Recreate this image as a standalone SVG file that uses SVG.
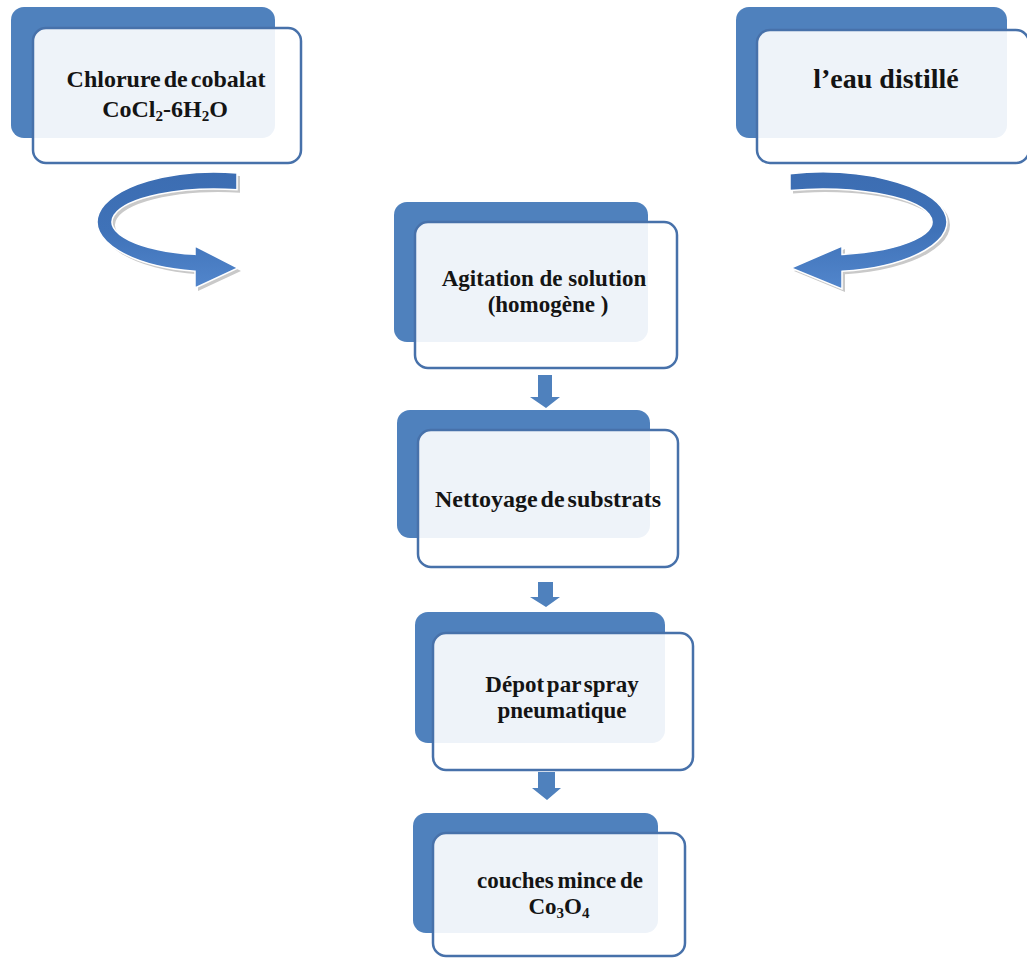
<svg xmlns="http://www.w3.org/2000/svg" width="1027" height="958" viewBox="0 0 1027 958">
<defs>
<style>
.back{fill:#4f81bd;}
.front{fill:#ffffff;fill-opacity:0.9;stroke:#4771aa;stroke-width:2.5;}
.t{font-family:"Liberation Serif","Times New Roman",serif;font-weight:bold;font-size:24px;fill:#141414;text-anchor:middle;}
.m{font-size:23px;}
.sub{font-size:15px;}
.darr{fill:#4f81bd;}
.curve{fill:url(#cg);stroke:#ffffff;stroke-width:1.5;}
.shadow{fill:#c9c9c9;}
</style>
<linearGradient id="cg" x1="0" y1="0" x2="0" y2="1">
<stop offset="0" stop-color="#3c6db2"/>
<stop offset="0.5" stop-color="#3f72b8"/>
<stop offset="1" stop-color="#5286cc"/>
</linearGradient>
</defs>
<rect width="1027" height="958" fill="#ffffff"/>

<g id="connectors">
<g id="curve-left">
<path class="shadow" transform="translate(3,3)" d="M237,172.88 A118,50 0 1,0 195,271.28 L195,288 L238,268 L195,246 L195,254.37 A103,33 0 1,1 237,189.76 Z"/>
<path class="curve" d="M237,172.88 A118,50 0 1,0 195,271.28 L195,288 L238,268 L195,246 L195,254.37 A103,33 0 1,1 237,189.76 Z"/>
</g>
<g id="curve-right">
<path class="shadow" transform="translate(3,3)" d="M790,173.67 A125,50 0 1,1 842,271.36 L842,289 L791,268 L842,246 L842,254.45 A110,33 0 1,0 790,190.43 Z"/>
<path class="curve" d="M790,173.67 A125,50 0 1,1 842,271.36 L842,289 L791,268 L842,246 L842,254.45 A110,33 0 1,0 790,190.43 Z"/>
</g>
<path class="darr" d="M538,375 L552,375 L552,397 L560,397 L546,408 L530,397 L538,397 Z"/>
<path class="darr" d="M538,582 L553,582 L553,597 L560,597 L546,607 L530,597 L538,597 Z"/>
<path class="darr" d="M538,772 L555,772 L555,788 L561,788 L547,800 L532,788 L538,788 Z"/>
</g>

<g id="node-chlorure">
<rect class="back" x="11" y="7" width="264" height="131" rx="13"/>
<rect class="front" x="33" y="28" width="268" height="135" rx="13"/>
<text class="t" x="166" y="87" word-spacing="-3">Chlorure de cobalat</text>
<text class="t" x="165" y="117">CoCl<tspan class="sub" dy="4">2</tspan><tspan dy="-4">-6H</tspan><tspan class="sub" dy="4">2</tspan><tspan dy="-4">O</tspan></text>
</g>

<g id="node-eau">
<rect class="back" x="736" y="7" width="271" height="131" rx="13"/>
<rect class="front" x="757" y="30" width="272" height="133" rx="13"/>
<text class="t" x="886" y="88" style="font-size:28px">l’eau distillé</text>
</g>

<g id="node-agitation">
<rect class="back" x="394" y="202" width="254" height="140" rx="13"/>
<rect class="front" x="415" y="222" width="262" height="146" rx="13"/>
<text class="t m" x="544" y="286">Agitation de solution</text>
<text class="t m" x="548" y="312">(homogène )</text>
</g>

<g id="node-nettoyage">
<rect class="back" x="397" y="410" width="253" height="128" rx="13"/>
<rect class="front" x="418" y="430" width="260" height="137" rx="13"/>
<text class="t" x="548" y="507" word-spacing="-3">Nettoyage de substrats</text>
</g>

<g id="node-depot">
<rect class="back" x="415" y="612" width="250" height="131" rx="13"/>
<rect class="front" x="433" y="633" width="260" height="137" rx="13"/>
<text class="t m" x="562" y="692" word-spacing="-3">Dépot par spray</text>
<text class="t m" x="562" y="718">pneumatique</text>
</g>

<g id="node-couches">
<rect class="back" x="413" y="813" width="245" height="120" rx="13"/>
<rect class="front" x="433" y="833" width="252" height="123" rx="13"/>
<text class="t m" x="560" y="888" word-spacing="-2">couches mince de</text>
<text class="t m" x="559" y="914">Co<tspan class="sub" dy="4">3</tspan><tspan dy="-4">O</tspan><tspan class="sub" dy="4">4</tspan></text>
</g>
</svg>
